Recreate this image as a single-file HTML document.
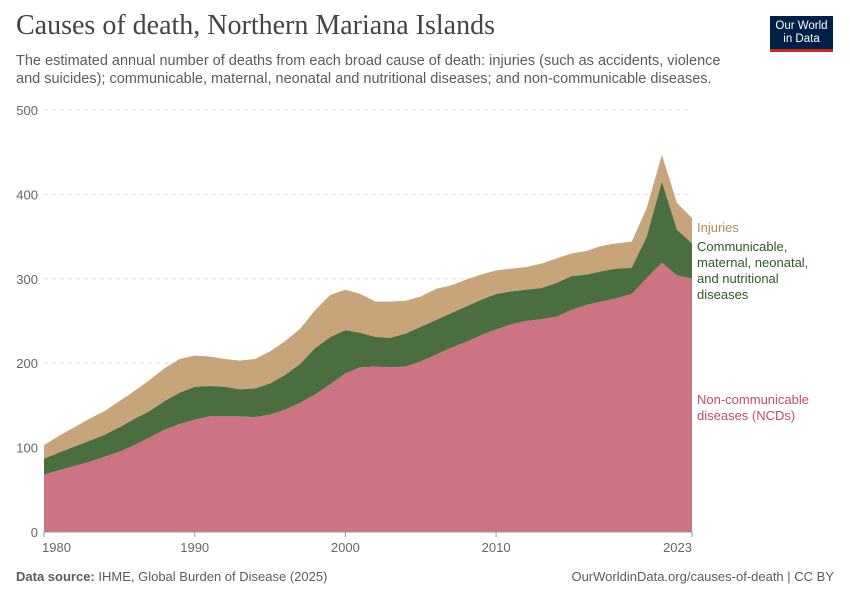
<!DOCTYPE html>
<html><head><meta charset="utf-8"><style>
body{margin:0;background:#fff;font-family:"Liberation Sans",sans-serif;}
#wrap{position:relative;width:850px;height:600px;overflow:hidden;}
.t{position:absolute;white-space:nowrap;}
</style></head><body>
<div id="wrap">
<div class="t" style="left:16px;top:10px;font-family:'Liberation Serif',serif;font-size:28px;color:#444;">Causes of death, Northern Mariana Islands</div>
<div class="t" style="left:16px;top:52px;font-size:14.5px;color:#5b5b5b;line-height:18px;">The estimated annual number of deaths from each broad cause of death: injuries (such as accidents, violence<br>and suicides); communicable, maternal, neonatal and nutritional diseases; and non-communicable diseases.</div>
<div style="position:absolute;left:770px;top:16px;width:63px;height:36px;background:#002147;border-bottom:3px solid #ce261e;box-sizing:border-box;color:#fff;font-size:11.5px;line-height:13px;text-align:center;padding-top:4px;">Our World<br>in Data</div>
<svg id="svg" width="850" height="600" style="position:absolute;left:0;top:0"></svg>
<div class="t" style="left:16px;top:569px;font-size:13px;color:#5b5b5b;"><b>Data source:</b> IHME, Global Burden of Disease (2025)</div>
<div class="t" style="right:16px;top:569px;font-size:13px;color:#5b5b5b;">OurWorldinData.org/causes-of-death | CC BY</div>
</div>
<script>
const years=[];for(let y=1980;y<=2023;y++)years.push(y);
const ncd=[68,73,78,83,89,95,103,112,121,128,133,137,137,137,136,139,145,153,163,175,188,195,196,195,196,202,210,218,225,233,240,246,250,252,255,263,269,273,277,282,301,319,304,300];
const communicable=[19,21,23,25,26,29,31,31,34,37,39,36,35,32,34,37,41,46,55,56,51,41,35,35,39,41,41,41,42,42,42,39,37,37,40,40,36,36,35,31,49,96,54,42];
const injuries=[16,20,23,26,28,31,33,37,39,40,37,35,33,34,35,38,40,42,45,50,48,46,42,43,39,36,37,33,32,30,28,27,27,29,29,27,28,30,30,31,34,32,32,30];
const yTicks=[0,100,200,300,400,500];
const xTicks=[1980,1990,2000,2010,2023];
const X0=44,X1=692,Y0=532,Y1=110;
const xs=y=>X0+(y-1980)/(2023-1980)*(X1-X0);
const ys=v=>Y0-v/500*(Y0-Y1);
const svg=document.getElementById('svg');const NS='http://www.w3.org/2000/svg';
function mk(t,a){const e=document.createElementNS(NS,t);for(const k in a)e.setAttribute(k,a[k]);svg.appendChild(e);return e;}
yTicks.forEach(v=>{
 if(v>0){const l=mk('line',{x1:X0,x2:X1,y1:ys(v),y2:ys(v),stroke:'#ddd','stroke-dasharray':'4,4'});
 
 }
 const t=mk('text',{x:38,y:ys(v)+5,'text-anchor':'end','font-size':13,fill:'#666','font-family':'Liberation Sans'});t.textContent=v;
 
 
});
const c1=ncd, c2=ncd.map((v,i)=>v+communicable[i]), c3=c2.map((v,i)=>v+injuries[i]);
function area(top,bot,fill,name){
 let d='M'+years.map((y,i)=>xs(y)+','+ys(top[i])).join(' L');
 for(let i=years.length-1;i>=0;i--)d+=' L'+xs(years[i])+','+ys(bot?bot[i]:0);
 const p=mk('path',{d:d+'Z',fill:fill});
 
 
}
area(c3,c2,'#c8a47a','injuries-area');
area(c2,c1,'#4a6e3f','communicable-area');
area(c1,null,'#cc7384','ncd-area');
mk('line',{x1:X0,x2:X1,y1:Y0,y2:Y0,stroke:'#999'});
xTicks.forEach(y=>{
 const anc=y===1980?'start':(y===2023?'end':'middle');
 const t=mk('text',{x:xs(y)+(y===1980?-2:0),y:552,'text-anchor':anc,'font-size':13,fill:'#666','font-family':'Liberation Sans'});t.textContent=y;
 
 
 mk('line',{x1:xs(y),x2:xs(y),y1:Y0,y2:Y0+5,stroke:'#999'});
});
function lab(lines,y,col,name){lines.forEach((s,i)=>{const t=mk('text',{x:697,y:y+i*16,'font-size':13,fill:col,'font-family':'Liberation Sans'});t.textContent=s;
 
 });}
lab(['Injuries'],232,'#b48a5a','legend-injuries');
lab(['Communicable,','maternal, neonatal,','and nutritional','diseases'],251,'#2e5a24','legend-communicable');
lab(['Non-communicable','diseases (NCDs)'],404,'#c24e68','legend-ncd');
</script>
</body></html>
